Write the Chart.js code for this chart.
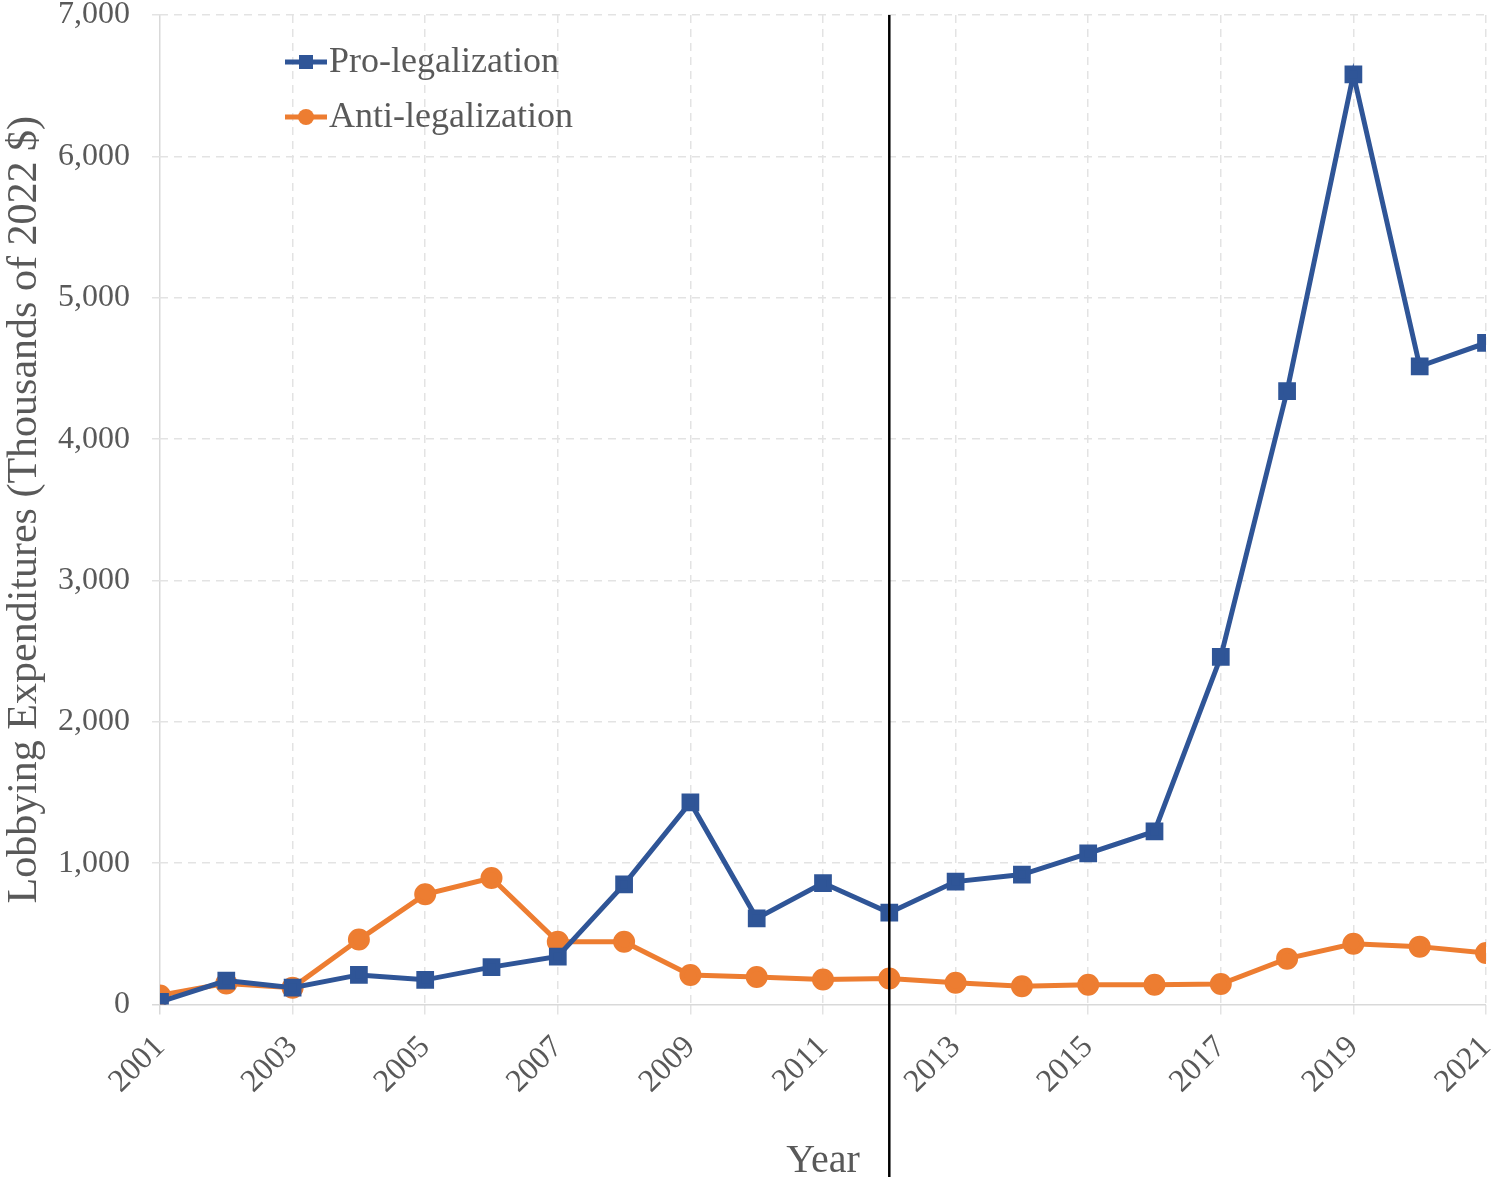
<!DOCTYPE html>
<html>
<head>
<meta charset="utf-8">
<script src="https://cdn.jsdelivr.net/npm/chart.js@4.4.1/dist/chart.umd.min.js"></script>
<style>
  html, body { margin: 0; padding: 0; background: #fff; }
  #wrap { width: 1500px; height: 1177px; }
</style>
</head>
<body>
<div id="wrap"><canvas id="lobbyChart" width="1500" height="1177"></canvas></div>
<script>
// values (thousands of 2022 $)
const years = [2001, 2002, 2003, 2004, 2005, 2006, 2007, 2008, 2009, 2010, 2011,
               2012, 2013, 2014, 2015, 2016, 2017, 2018, 2019, 2020, 2021];
const proValues = [20, 170, 120, 210, 175, 265, 340, 850, 1430, 610, 860,
                   650, 870, 920, 1070, 1225, 2460, 4340, 6580, 4515, 4680];
const antiValues = [65, 150, 120, 460, 780, 895, 445, 445, 210, 195, 178,
                    185, 155, 130, 140, 140, 145, 325, 430, 410, 365];
const markerYear = 2012;

const blue = "#2F5597";
const orange = "#ED7D31";
const grey = "#595959";
const font = "'Liberation Serif', 'Times New Roman', serif";

// vertical line at the 2012 mark, runs to the bottom of the canvas
const yearLine = {
    id: "yearLine",
    afterDatasetsDraw(chart) {
        const ctx = chart.ctx;
        const x = chart.scales.x.getPixelForValue(markerYear);
        ctx.save();
        ctx.strokeStyle = "#000";
        ctx.lineWidth = 2.5;
        ctx.beginPath();
        ctx.moveTo(x, chart.chartArea.top);
        ctx.lineTo(x, chart.height);
        ctx.stroke();
        ctx.restore();
    }
};

// legend drawn inside the plot, top left
const innerLegend = {
    id: "innerLegend",
    afterDraw(chart) {
        const ctx = chart.ctx;
        const left = 285, top = 62, gap = 55;
        ctx.save();
        chart.data.datasets.forEach((ds, i) => {
            const y = top + i * gap;
            ctx.strokeStyle = ds.borderColor;
            ctx.lineWidth = 5;
            ctx.beginPath();
            ctx.moveTo(left, y);
            ctx.lineTo(left + 42, y);
            ctx.stroke();
            ctx.fillStyle = ds.backgroundColor;
            if (ds.pointStyle === "rect") {
                ctx.fillRect(left + 14, y - 7, 14, 14);
            } else {
                ctx.beginPath();
                ctx.arc(left + 21, y, 8, 0, Math.PI * 2);
                ctx.fill();
            }
            ctx.fillStyle = grey;
            ctx.font = "36px " + font;
            ctx.textBaseline = "middle";
            ctx.fillText(ds.label, left + 44, y + 1);
        });
        ctx.restore();
    }
};

const gridColor = c => c.index === 0 ? "#d9d9d9" : "#e3e3e3";
const gridDash = c => c.index === 0 ? [] : [8, 6];

new Chart(document.getElementById("lobbyChart").getContext("2d"), {
    type: "line",
    data: {
        datasets: [{
            label: "Pro-legalization",
            data: years.map((yr, i) => ({ x: yr, y: proValues[i] })),
            borderColor: blue,
            backgroundColor: blue,
            borderWidth: 5,
            pointStyle: "rect",
            pointRadius: 9,
            pointHoverRadius: 9,
            tension: 0
        }, {
            label: "Anti-legalization",
            data: years.map((yr, i) => ({ x: yr, y: antiValues[i] })),
            borderColor: orange,
            backgroundColor: orange,
            borderWidth: 5,
            pointStyle: "circle",
            pointRadius: 8.5,
            pointHoverRadius: 8.5,
            tension: 0
        }]
    },
    options: {
        responsive: false,
        animation: false,
        layout: { padding: { top: 15, right: 13, left: 0, bottom: -8 } },
        plugins: {
            legend: { display: false },
            tooltip: { enabled: false }
        },
        scales: {
            x: {
                type: "linear",
                min: 2001,
                max: 2021,
                afterFit: scale => { scale.paddingRight = 0; scale.paddingLeft = 0; },
                ticks: {
                    stepSize: 2,
                    color: grey,
                    font: { family: font, size: 32 },
                    minRotation: 45,
                    maxRotation: 45,
                    padding: 14,
                    callback: v => String(v)
                },
                grid: {
                    color: gridColor,
                    lineWidth: 1.5,
                    drawTicks: true,
                    tickLength: 10
                },
                border: { display: false, dash: gridDash },
                title: {
                    display: true,
                    text: "Year",
                    color: grey,
                    font: { family: font, size: 40 },
                    padding: { top: 22, bottom: 0 }
                }
            },
            y: {
                min: 0,
                max: 7000,
                afterFit: scale => {
                    scale.width = 160;
                    scale.paddingTop = 0;
                    scale.paddingBottom = 0;
                },
                ticks: {
                    stepSize: 1000,
                    color: grey,
                    font: { family: font, size: 32 },
                    padding: 22,
                    callback: v => v.toLocaleString("en-US")
                },
                grid: {
                    color: gridColor,
                    lineWidth: 1.5,
                    drawTicks: true,
                    tickLength: 8
                },
                border: { display: false, dash: gridDash },
                title: {
                    display: true,
                    text: "Lobbying Expenditures (Thousands of 2022 $)",
                    color: grey,
                    font: { family: font, size: 42 },
                    padding: { top: 0, bottom: 8 }
                }
            }
        }
    },
    plugins: [yearLine, innerLegend]
});
</script>
</body>
</html>
